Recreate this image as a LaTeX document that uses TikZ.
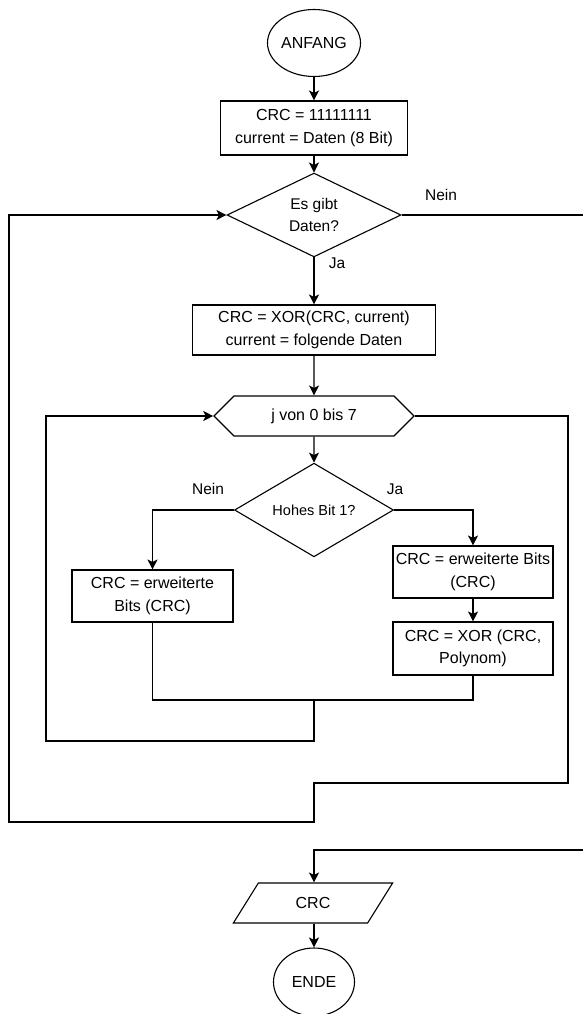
\documentclass[tikz,border=0pt]{standalone}
\usepackage{fontspec}
\setmainfont{Liberation Sans}
\usetikzlibrary{positioning}
\usetikzlibrary{arrows.meta, shapes.geometric, shapes.symbols}

\begin{document}
\begin{tikzpicture}[x=1pt, y=-1pt, line width=1.1pt,
 every node/.style={font=\fontsize{16}{22.5}\selectfont, align=center},
 terminal/.style={ellipse,
 draw,
 minimum width=81pt,
 minimum height=67pt,
 inner sep=0pt},
 process/.style={rectangle,
 draw,
 inner sep=0pt},
 decision/.style={diamond,
 draw,
 inner sep=0pt},
 label/.style={font=\fontsize{15.5}{20}\selectfont},
 >={Stealth[length=10pt, width=10pt, inset=2.5pt]}]

 \useasboundingbox (0,0) rectangle (583,1014);

 \node[terminal] (anfang) at (314,43) {ANFANG};
 \node[process,
 minimum width=187pt,
 minimum height=54pt] (init) at (314,128) {CRC = 11111111\\current = Daten (8 Bit)};
 \node[decision,
 minimum width=174pt,
 minimum height=65pt,
 font=\fontsize{15.5}{22.5}\selectfont] (daten) at (314,215) {Es gibt\\Daten?};
 \node[process,
 minimum width=243pt,
 minimum height=50pt] (xor) at (314,330) {CRC = XOR(CRC, current)\\current = folgende Daten};
 \node[signal,
 draw,
 signal to=west and east,
 signal pointer angle=90,
 minimum width=200pt,
 minimum height=40pt,
 inner sep=0pt] (schleife) at (314,416) {j von 0 bis 7};
 \node[decision,
 minimum width=159pt,
 minimum height=66pt,
 font=\fontsize{14.5}{20}\selectfont] (hohesbit) at (314,510) {Hohes Bit 1?};
 \node[process,
 minimum width=161pt,
 minimum height=52pt] (schieben) at (152.5,596) {CRC = erweiterte\\Bits (CRC)};
 \node[process,
 minimum width=160pt,
 minimum height=52pt] (schiebenja) at (473,572) {CRC = erweiterte Bits\\(CRC)};
 \node[process,
 minimum width=160pt,
 minimum height=53pt] (polynom) at (473,648.5) {CRC = XOR (CRC,\\Polynom)};
 \node[trapezium,
 draw,
 trapezium left angle=55,
 trapezium right angle=125,
 trapezium stretches=true,
 minimum width=160pt,
 minimum height=40pt,
 inner sep=0pt] (ausgabe) at (313,903) {CRC};
 \node[terminal,
 minimum height=68pt] (ende) at (314,982) {ENDE};

 \node[label] (neinA) at (441,195) {Nein};
 \node[label] (jaA) at (337,263) {Ja};
 \node[label] (neinB) at (208,489) {Nein};
 \node[label] (jaB) at (395,489) {Ja};

 \coordinate (zusammen) at (314,700);
 \coordinate (innenlinks) at (46,741);
 \coordinate (aussenrechts) at (568,783);
 \coordinate (aussenmitte) at (314,822);
 \coordinate (aussenlinks) at (9,822);
 \coordinate (rausA) at (583,215);
 \coordinate (rausB) at (583,850);

 \draw [->] (anfang) to (init);
 \draw [->] (init) to (daten);
 \draw [->] (daten) to (xor);
 \draw [->] (xor) to (schleife);
 \draw [->] (schleife) to (hohesbit);
 \draw [->] (hohesbit.west) -| (schieben.north);
 \draw [->] (hohesbit.east) -| (schiebenja.north);
 \draw [->] (schiebenja) to (polynom);
 \draw (schieben.south) |- (zusammen) -| (polynom.south);
 \draw [->] (zusammen) |- (innenlinks) |- (schleife.west);
 \draw [->] (schleife.east) -| (aussenrechts) -| (aussenmitte) -- (aussenlinks) |- (daten.west);
 \draw (daten.east) -- (rausA);
 \draw [->] (rausB) -| (ausgabe.north -| ende.north);
 \draw [->] (ausgabe.south -| ende.north) to (ende);

\end{tikzpicture}
\end{document}
